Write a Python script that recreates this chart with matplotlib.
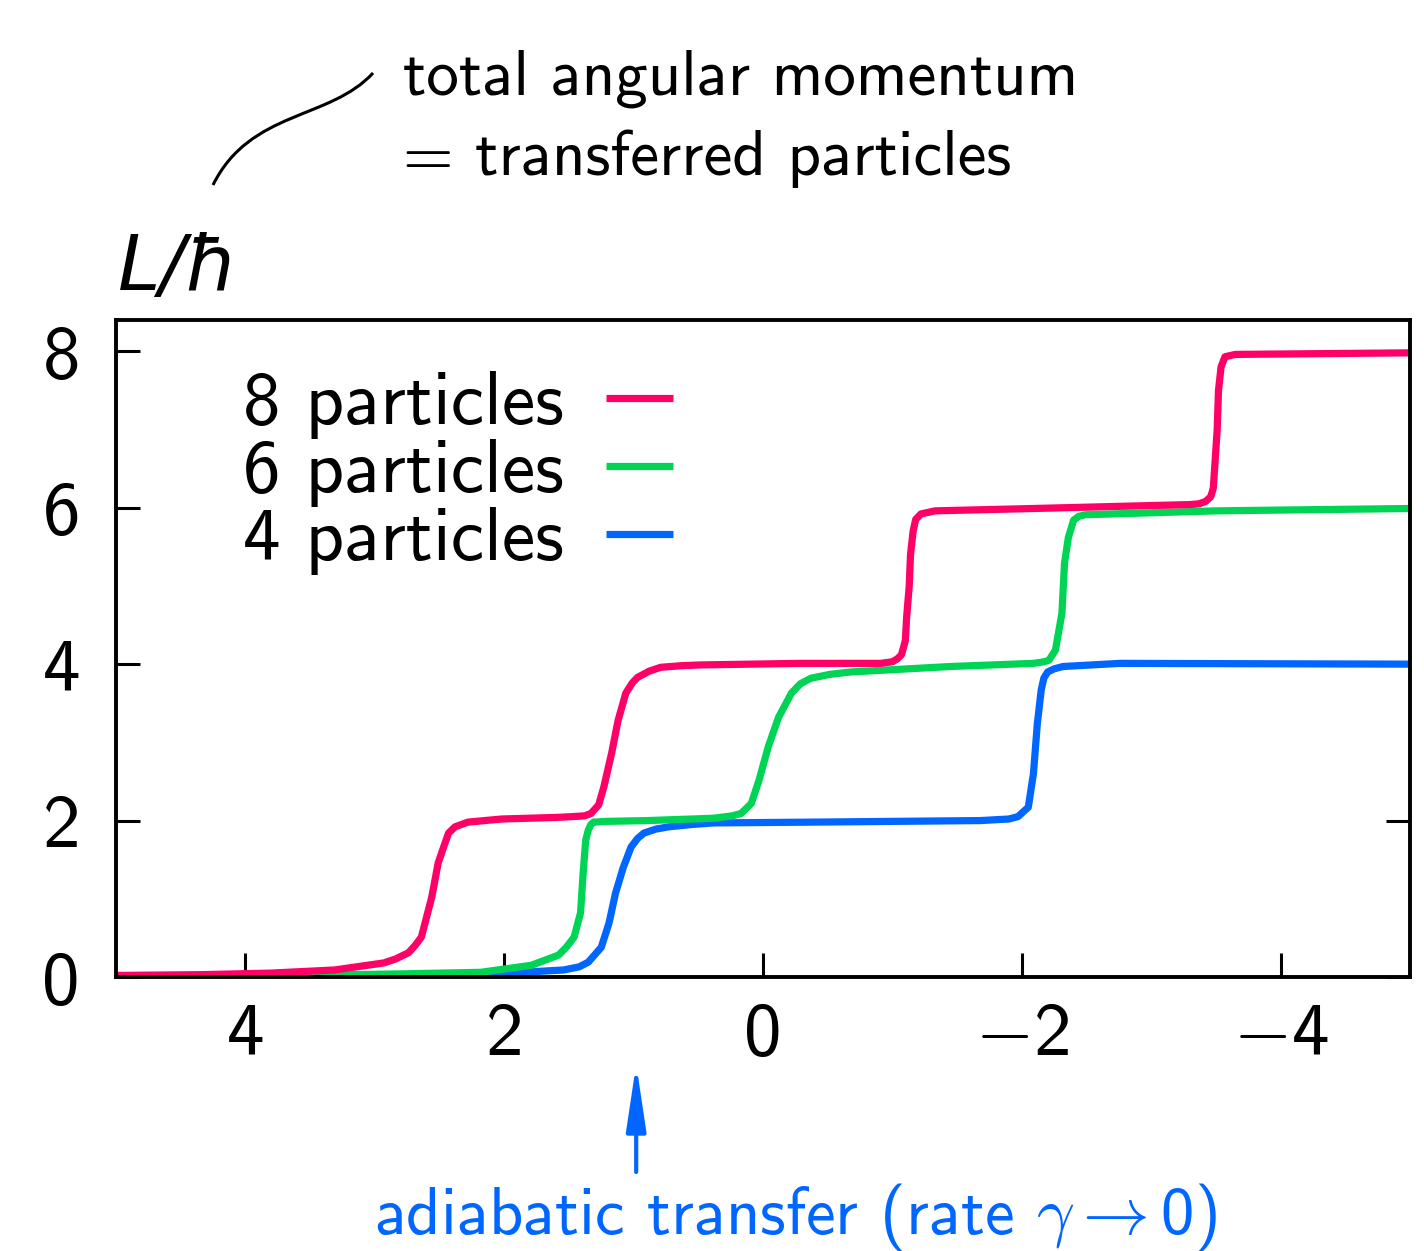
import matplotlib
matplotlib.use('Agg')
import matplotlib.pyplot as plt
from matplotlib.path import Path
from matplotlib.patches import PathPatch

plt.rcParams['font.family'] = ['cmss10', 'DejaVu Sans']
plt.rcParams['mathtext.fontset'] = 'cm'

# Daten (x-Achse läuft von 5 nach -5)
red_x = [5.0, 4.34, 3.80, 3.31, 2.93, 2.84, 2.74, 2.69, 2.64, 2.56,
         2.51, 2.46, 2.43, 2.38, 2.28, 2.02, 1.60, 1.48, 1.38, 1.33,
         1.27, 1.23, 1.17, 1.12, 1.06, 1.01, 0.97, 0.88, 0.79, 0.63,
         0.48, -0.29, -0.91, -1.00, -1.04, -1.07, -1.10, -1.11, -1.13, -1.14,
         -1.16, -1.18, -1.22, -1.33, -2.09, -3.30, -3.37, -3.42, -3.46, -3.48,
         -3.49, -3.51, -3.52, -3.54, -3.57, -3.65, -5.0]
red_y = [0.02, 0.03, 0.05, 0.09, 0.18, 0.23, 0.31, 0.40, 0.51, 1.02,
         1.46, 1.70, 1.84, 1.92, 1.98, 2.02, 2.04, 2.05, 2.06, 2.09,
         2.20, 2.43, 2.86, 3.28, 3.63, 3.76, 3.83, 3.91, 3.96, 3.98,
         3.99, 4.01, 4.01, 4.03, 4.07, 4.12, 4.30, 4.60, 5.00, 5.40,
         5.70, 5.85, 5.92, 5.96, 5.99, 6.04, 6.05, 6.08, 6.14, 6.25,
         6.50, 7.00, 7.50, 7.80, 7.93, 7.96, 7.98]

green_x = [5.0, 3.57, 2.80, 2.18, 1.79, 1.58, 1.52, 1.46, 1.41, 1.39,
           1.37, 1.35, 1.33, 1.31, 1.20, 0.89, 0.38, 0.24, 0.17, 0.09,
           0.03, -0.04, -0.12, -0.22, -0.29, -0.37, -0.52, -0.68, -1.45, -2.09,
           -2.17, -2.21, -2.26, -2.31, -2.33, -2.36, -2.40, -2.44, -2.49, -3.51,
           -5.0]
green_y = [0.0, 0.02, 0.04, 0.06, 0.15, 0.28, 0.38, 0.51, 0.82, 1.33,
           1.75, 1.88, 1.95, 1.98, 1.99, 2.00, 2.03, 2.06, 2.09, 2.22,
           2.52, 2.94, 3.32, 3.63, 3.75, 3.82, 3.87, 3.90, 3.97, 4.01,
           4.03, 4.05, 4.18, 4.65, 5.29, 5.62, 5.84, 5.89, 5.91, 5.96,
           5.99]

blue_x = [5.0, 2.80, 1.97, 1.54, 1.42, 1.35, 1.25, 1.19, 1.14, 1.08,
          1.02, 0.97, 0.92, 0.83, 0.73, 0.55, 0.38, -0.37, -1.68, -1.90,
          -1.97, -2.05, -2.09, -2.12, -2.15, -2.17, -2.20, -2.25, -2.32, -2.76,
          -5.0]
blue_y = [0.0, 0.01, 0.05, 0.09, 0.13, 0.19, 0.38, 0.69, 1.07, 1.40,
          1.66, 1.77, 1.84, 1.89, 1.92, 1.95, 1.97, 1.98, 2.00, 2.02,
          2.05, 2.17, 2.60, 3.24, 3.67, 3.82, 3.90, 3.94, 3.97, 4.01,
          4.00]

labels = ['8 particles', '6 particles', '4 particles']
colors = ['#ff0066', '#00d455', '#0066ff']
xticks = [4, 2, 0, -2, -4]
xtick_labels = ['4', '2', '0', r'$-$2', r'$-$4']
yticks = [0, 2, 4, 6, 8]
ytick_labels = ['0', '2', '4', '6', '8']
arrow_x = 0.98

W, H = 1424, 1251
fig = plt.figure(figsize=(W / 100, H / 100), dpi=100)
ax = fig.add_axes([116 / W, 1 - 977 / H, (1410 - 116) / W, (977 - 320) / H])

# blau zuerst, rot oben drauf
l4, = ax.plot(blue_x, blue_y, color=colors[2], lw=5.2, solid_capstyle='butt')
l6, = ax.plot(green_x, green_y, color=colors[1], lw=5.2, solid_capstyle='butt')
l8, = ax.plot(red_x, red_y, color=colors[0], lw=5.2, solid_capstyle='butt')

ax.set_xlim(5, -5)
ax.set_ylim(0, 8.4)
ax.set_xticks(xticks, xtick_labels)
ax.set_yticks(yticks, ytick_labels)
for s in ax.spines.values():
    s.set_linewidth(2.8)
ax.tick_params(direction='in', length=17, width=2.2, labelsize=54,
               left=True, right=True, top=False, bottom=True)
ax.tick_params(axis='y', pad=26)
ax.tick_params(axis='x', pad=18)

ax.legend([l8, l6, l4], labels, markerfirst=False, frameon=False, fontsize=54,
          handlelength=0.9, handletextpad=0.56, labelspacing=0.0,
          loc='upper left', bbox_to_anchor=(0.098, 0.922),
          borderaxespad=0, borderpad=0)

fig.text(118 / W, 1 - 290 / H, 'L/ħ', fontsize=55, family='DejaVu Sans',
         style='italic', ha='left', va='baseline')

fig.text(403 / W, 1 - 95 / H, 'total angular momentum', fontsize=46.8,
         ha='left', va='baseline')
fig.text(403 / W, 1 - 175 / H, '= transferred particles', fontsize=46.8,
         ha='left', va='baseline')

# geschwungene Linie zum Text
def fp(px, py):
    return (px / W, 1 - py / H)

verts = [fp(213, 185), fp(250, 110), fp(330, 120), fp(373, 73)]
codes = [Path.MOVETO, Path.CURVE4, Path.CURVE4, Path.CURVE4]
fig.patches.append(PathPatch(Path(verts, codes), transform=fig.transFigure,
                             fill=False, lw=2.2, color='black'))

# Pfeil unter der x-Achse
ax.annotate('', xy=(arrow_x, H - 1064), xytext=(arrow_x, H - 1172),
            xycoords=('data', 'figure pixels'), textcoords=('data', 'figure pixels'),
            arrowprops=dict(arrowstyle='-|>,head_length=4.0,head_width=0.6',
                            color=colors[2], lw=3, shrinkA=0, shrinkB=0))
fig.text(795 / W, 1 - 1234 / H, r'adiabatic transfer (rate $\gamma \rightarrow$0)',
         fontsize=48, color=colors[2], ha='center', va='baseline')

fig.savefig('out.png', dpi=100)
